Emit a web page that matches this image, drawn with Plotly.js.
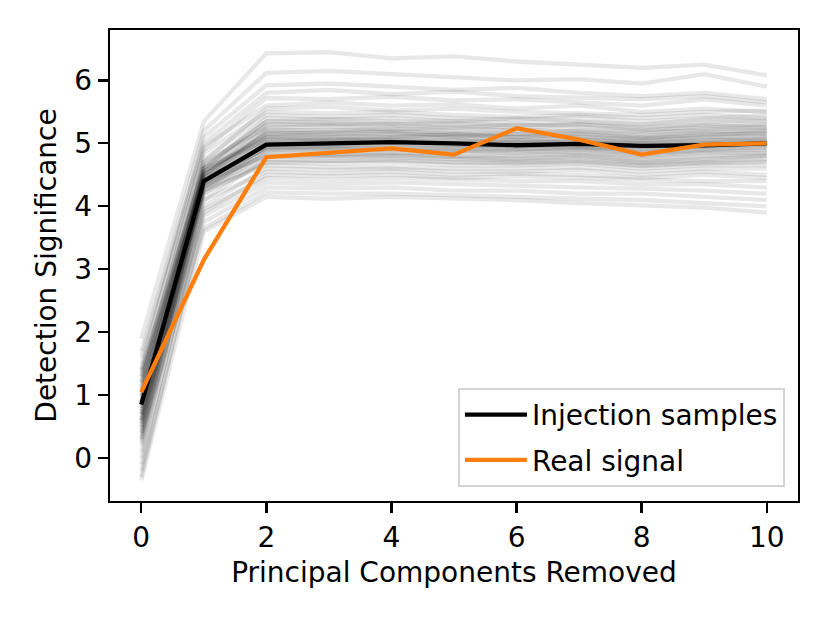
<!DOCTYPE html>
<html>
<head>
<meta charset="utf-8">
<script src="https://cdn.plot.ly/plotly-3.0.1.min.js"></script>
<style>
  body { margin: 0; background: #fff; }
  #plot { width: 830px; height: 623px; }
</style>
</head>
<body>
<div id="plot"></div>
<script>
// number of principal components removed
var components = [0, 1, 2, 3, 4, 5, 6, 7, 8, 9, 10];

// mean of the injection samples and the real signal
var injectionMean = [0.85, 4.40, 4.98, 5.00, 5.02, 5.00, 4.97, 4.99, 4.96, 4.97, 5.00];
var realSignal = [1.05, 3.15, 4.78, 4.85, 4.92, 4.82, 5.24, 5.06, 4.82, 4.98, 5.00];

// individual injection samples (faint grey lines)
var sample01 = [1.90, 5.35, 6.43, 6.45, 6.35, 6.38, 6.30, 6.25, 6.20, 6.25, 6.08];
var sample02 = [1.60, 5.20, 6.12, 6.15, 6.10, 6.05, 6.00, 6.02, 5.95, 6.10, 5.90];
var sample03 = [1.40, 5.10, 5.92, 5.95, 5.90, 5.85, 5.88, 5.80, 5.75, 5.80, 5.70];
var sample04 = [1.70, 5.00, 5.80, 5.85, 5.78, 5.82, 5.75, 5.72, 5.70, 5.75, 5.65];
var sample05 = [1.20, 4.90, 5.72, 5.70, 5.74, 5.68, 5.70, 5.65, 5.60, 5.70, 5.60];
var sample06 = [1.50, 4.95, 5.60, 5.65, 5.60, 5.62, 5.55, 5.60, 5.50, 5.55, 5.50];
var sample07 = [0.90, 4.70, 5.55, 5.58, 5.52, 5.55, 5.50, 5.48, 5.45, 5.50, 5.52];
var sample08 = [1.30, 4.85, 5.50, 5.48, 5.50, 5.45, 5.42, 5.45, 5.40, 5.45, 5.40];
var sample09 = [1.10, 4.75, 5.45, 5.42, 5.45, 5.40, 5.38, 5.42, 5.35, 5.40, 5.45];
var sample10 = [0.70, 4.60, 5.40, 5.38, 5.40, 5.35, 5.40, 5.35, 5.30, 5.38, 5.35];
var sample11 = [1.00, 4.65, 5.35, 5.33, 5.30, 5.32, 5.28, 5.30, 5.25, 5.30, 5.30];
var sample12 = [0.60, 4.55, 5.30, 5.30, 5.28, 5.25, 5.30, 5.27, 5.20, 5.28, 5.25];
var sample13 = [1.20, 4.70, 5.25, 5.27, 5.22, 5.25, 5.20, 5.22, 5.18, 5.20, 5.22];
var sample14 = [0.80, 4.50, 5.20, 5.22, 5.20, 5.18, 5.15, 5.20, 5.12, 5.18, 5.20];
var sample15 = [0.50, 4.45, 5.18, 5.15, 5.18, 5.12, 5.15, 5.10, 5.08, 5.15, 5.15];
var sample16 = [1.00, 4.55, 5.15, 5.12, 5.10, 5.15, 5.10, 5.12, 5.05, 5.10, 5.12];
var sample17 = [0.30, 4.40, 5.10, 5.10, 5.12, 5.08, 5.05, 5.08, 5.00, 5.05, 5.10];
var sample18 = [0.90, 4.50, 5.08, 5.05, 5.05, 5.02, 5.05, 5.00, 5.02, 5.05, 5.05];
var sample19 = [1.40, 4.60, 5.05, 5.08, 5.02, 5.05, 5.00, 5.03, 4.98, 5.00, 5.02];
var sample20 = [0.40, 4.35, 5.00, 5.02, 5.00, 4.98, 4.95, 5.00, 4.95, 4.98, 5.00];
var sample21 = [0.70, 4.40, 4.98, 4.95, 5.00, 4.95, 4.92, 4.95, 4.90, 4.95, 4.98];
var sample22 = [0.10, 4.25, 4.95, 4.93, 4.95, 4.90, 4.90, 4.92, 4.85, 4.90, 4.95];
var sample23 = [1.10, 4.45, 4.92, 4.90, 4.90, 4.88, 4.85, 4.90, 4.82, 4.88, 4.90];
var sample24 = [0.60, 4.30, 4.90, 4.88, 4.85, 4.85, 4.82, 4.85, 4.78, 4.85, 4.85];
var sample25 = [0.20, 4.20, 4.85, 4.82, 4.85, 4.80, 4.80, 4.82, 4.75, 4.80, 4.82];
var sample26 = [0.80, 4.35, 4.82, 4.80, 4.80, 4.78, 4.75, 4.78, 4.70, 4.75, 4.80];
var sample27 = [1.30, 4.40, 4.80, 4.78, 4.78, 4.75, 4.72, 4.75, 4.68, 4.72, 4.75];
var sample28 = [-0.10, 4.10, 4.75, 4.72, 4.75, 4.70, 4.70, 4.72, 4.65, 4.70, 4.72];
var sample29 = [0.50, 4.20, 4.70, 4.68, 4.70, 4.65, 4.65, 4.68, 4.60, 4.65, 4.65];
var sample30 = [0.90, 4.25, 4.65, 4.62, 4.62, 4.60, 4.60, 4.62, 4.55, 4.60, 4.60];
var sample31 = [0.00, 4.00, 4.60, 4.58, 4.60, 4.55, 4.55, 4.58, 4.50, 4.55, 4.50];
var sample32 = [0.60, 4.10, 4.55, 4.52, 4.55, 4.50, 4.52, 4.50, 4.45, 4.50, 4.45];
var sample33 = [-0.30, 3.90, 4.50, 4.48, 4.50, 4.45, 4.48, 4.45, 4.42, 4.40, 4.40];
var sample34 = [0.30, 3.95, 4.45, 4.42, 4.45, 4.42, 4.40, 4.40, 4.35, 4.35, 4.30];
var sample35 = [0.70, 3.85, 4.38, 4.35, 4.38, 4.35, 4.32, 4.30, 4.28, 4.25, 4.20];
var sample36 = [-0.20, 3.75, 4.30, 4.28, 4.30, 4.25, 4.25, 4.20, 4.20, 4.15, 4.10];
var sample37 = [0.40, 3.65, 4.22, 4.20, 4.20, 4.18, 4.15, 4.12, 4.10, 4.05, 4.00];
var sample38 = [-0.35, 3.60, 4.15, 4.12, 4.15, 4.12, 4.10, 4.05, 4.02, 3.98, 3.90];
var sample39 = [0.85, 4.45, 5.02, 5.05, 5.08, 5.05, 5.02, 5.05, 5.00, 5.02, 5.06];
var sample40 = [0.55, 4.35, 4.95, 4.97, 4.98, 4.95, 4.97, 4.93, 4.90, 4.95, 4.97];
var sample41 = [1.15, 4.55, 5.12, 5.15, 5.15, 5.12, 5.10, 5.15, 5.08, 5.12, 5.18];
var sample42 = [0.25, 4.30, 4.88, 4.90, 4.92, 4.88, 4.88, 4.86, 4.80, 4.86, 4.88];
var sample43 = [0.95, 4.50, 5.22, 5.20, 5.25, 5.20, 5.22, 5.18, 5.15, 5.22, 5.25];
var sample44 = [0.65, 4.40, 5.05, 5.03, 5.05, 5.00, 5.02, 5.00, 4.94, 5.00, 5.03];
var sample45 = [1.25, 4.60, 5.28, 5.30, 5.32, 5.28, 5.25, 5.30, 5.22, 5.25, 5.30];
var sample46 = [0.45, 4.32, 4.78, 4.80, 4.82, 4.78, 4.76, 4.80, 4.72, 4.78, 4.80];
var sample47 = [0.75, 4.42, 4.92, 4.95, 4.92, 4.92, 4.90, 4.93, 4.86, 4.92, 4.93];
var sample48 = [1.05, 4.52, 5.10, 5.08, 5.10, 5.10, 5.08, 5.06, 5.04, 5.08, 5.08];
var sample49 = [0.35, 4.28, 4.70, 4.72, 4.72, 4.70, 4.68, 4.70, 4.64, 4.68, 4.70];
var sample50 = [1.35, 4.62, 5.35, 5.38, 5.35, 5.35, 5.32, 5.35, 5.28, 5.33, 5.38];
var sample51 = [0.55, 4.38, 5.00, 4.98, 5.03, 4.98, 4.98, 4.97, 4.92, 4.96, 5.00];
var sample52 = [0.85, 4.48, 5.15, 5.18, 5.18, 5.15, 5.14, 5.15, 5.10, 5.14, 5.16];

var samples = [sample01, sample02, sample03, sample04, sample05, sample06, sample07,
  sample08, sample09, sample10, sample11, sample12, sample13, sample14, sample15,
  sample16, sample17, sample18, sample19, sample20, sample21, sample22, sample23,
  sample24, sample25, sample26, sample27, sample28, sample29, sample30, sample31,
  sample32, sample33, sample34, sample35, sample36, sample37, sample38, sample39,
  sample40, sample41, sample42, sample43, sample44, sample45, sample46, sample47,
  sample48, sample49, sample50, sample51, sample52];

var font = "DejaVu Sans, sans-serif";
var data = [];

for (var i = 0; i < samples.length; i++) {
  data.push({
    x: components,
    y: samples[i],
    mode: "lines",
    type: "scatter",
    line: { color: "rgba(0,0,0,0.09)", width: 4.3 },
    showlegend: false,
    hoverinfo: "skip"
  });
}

data.push({
  x: components,
  y: injectionMean,
  mode: "lines",
  type: "scatter",
  name: "Injection samples",
  legendgroup: "a",
  line: { color: "#000000", width: 4.3 }
});

data.push({
  x: components,
  y: realSignal,
  mode: "lines",
  type: "scatter",
  name: "Real signal",
  legendgroup: "b",
  line: { color: "#ff7f0e", width: 4.3 }
});

var axisStyle = {
  showline: true,
  mirror: true,
  linecolor: "#000",
  linewidth: 2.3,
  ticks: "outside",
  ticklen: 10,
  tickwidth: 2.3,
  tickcolor: "#000",
  showgrid: false,
  zeroline: false,
  automargin: false,
  tickfont: { family: font, size: 28, color: "#000" }
};

var layout = {
  width: 830,
  height: 623,
  margin: { l: 110, r: 32, t: 30, b: 122 },
  paper_bgcolor: "#fff",
  plot_bgcolor: "#fff",
  font: { family: font, size: 28, color: "#000" },
  xaxis: Object.assign({}, axisStyle, {
    range: [-0.5, 10.5],
    tickvals: [0, 2, 4, 6, 8, 10],
    title: { text: "Principal Components Removed", font: { family: font, size: 28 }, standoff: 10 }
  }),
  yaxis: Object.assign({}, axisStyle, {
    range: [-0.68, 6.8],
    tickvals: [0, 1, 2, 3, 4, 5, 6],
    title: { text: "Detection Significance", font: { family: font, size: 28 }, standoff: 10 }
  }),
  legend: {
    x: 0.981,
    y: 0.03,
    xanchor: "right",
    yanchor: "bottom",
    bgcolor: "rgba(255,255,255,0.8)",
    bordercolor: "#d4d4d4",
    borderwidth: 2,
    itemwidth: 62,
    tracegroupgap: 6,
    traceorder: "grouped",
    font: { family: font, size: 28, color: "#000" }
  }
};

Plotly.newPlot("plot", data, layout, { displayModeBar: false, staticPlot: true });
</script>
</body>
</html>
